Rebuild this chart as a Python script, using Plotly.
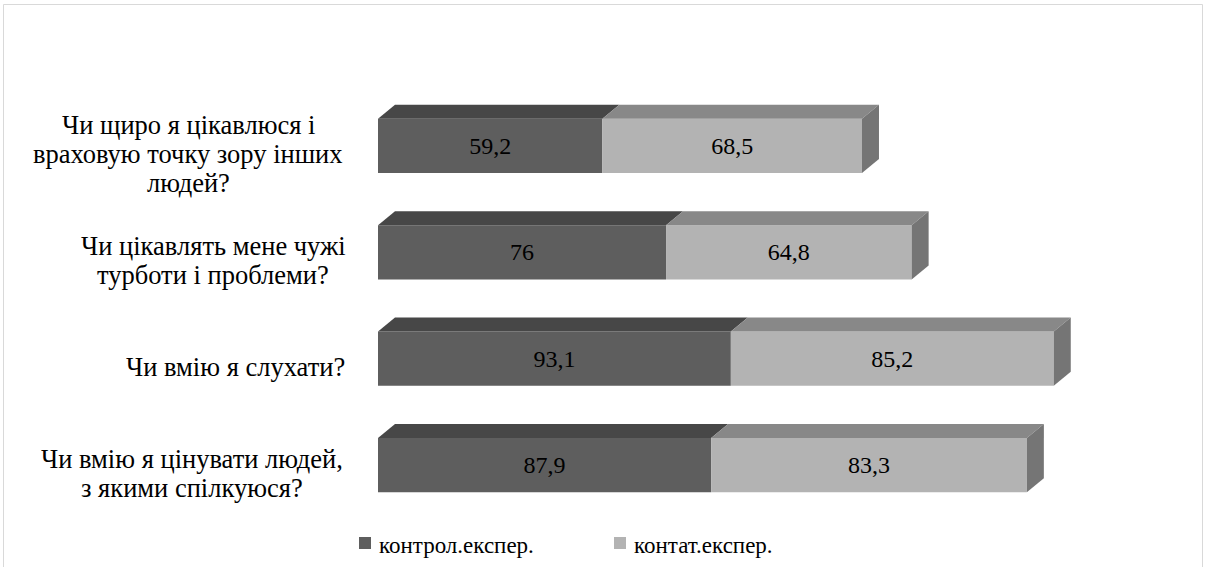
import plotly.graph_objects as go

# --- data -------------------------------------------------------------
questions = [
    "Чи щиро я цікавлюся і<br>враховую точку зору інших<br>людей?",
    "Чи цікавлять мене чужі<br>турботи і проблеми?",
    "Чи вмію я слухати?",
    "Чи вмію я цінувати людей,<br>з якими спілкуюся?",
]
control = [59.2, 76, 93.1, 87.9]
contact = [68.5, 64.8, 85.2, 83.3]
series_names = ["контрол.експер.", "контат.експер."]

# --- style ------------------------------------------------------------
FONT = "Liberation Serif"
DARK_FRONT, DARK_TOP = "#5e5e5e", "#474747"
LIGHT_FRONT, LIGHT_TOP = "#b3b3b3", "#888888"
SIDE = "#757575"
FRAME = "#d9d9d9"

W, H = 1209, 567
ML, MR, MT, MB = 378, 73, 82, 38
X_MAX = 200
Y_LO, Y_HI = -0.6, 3.6
BAR_W = 0.51
plot_w = W - ML - MR
plot_h = H - MT - MB
DX = 17 * X_MAX / plot_w            # depth offset, x units
DY = 14 * (Y_HI - Y_LO) / plot_h    # depth offset, y units

LABEL_SIZE = 26.5
LABEL_LINE = 29                     # px between label lines
LABEL_DROP = 8                      # px the label block sits below bar centre
LABEL_CENTERS = [188, 213, 235, 192]  # px, horizontal centre of each label block
VALUE_SIZE = 24
LEGEND_SIZE = 23


def fmt(v):
    return f"{v:g}".replace(".", ",")


def px_x(p):
    return (p - ML) / plot_w


def px_y(p):
    return (H - MB - p) / plot_h


n = len(questions)
ypos = [n - 1 - i for i in range(n)]

fig = go.Figure()

fig.add_trace(go.Bar(
    y=ypos, x=control, orientation="h", width=BAR_W, name=series_names[0],
    marker=dict(color=DARK_FRONT, line=dict(width=0)),
    text=[fmt(v) for v in control], texttemplate="%{text}",
    textposition="inside", insidetextanchor="middle", textangle=0,
    textfont=dict(family=FONT, size=VALUE_SIZE, color="black"),
    hoverinfo="skip", showlegend=False,
))
fig.add_trace(go.Bar(
    y=ypos, x=contact, base=control, orientation="h", width=BAR_W,
    name=series_names[1],
    marker=dict(color=LIGHT_FRONT, line=dict(width=0)),
    text=[fmt(v) for v in contact], texttemplate="%{text}",
    textposition="inside", insidetextanchor="middle", textangle=0,
    textfont=dict(family=FONT, size=VALUE_SIZE, color="black"),
    hoverinfo="skip", showlegend=False,
))


def face(xs, ys, color):
    fig.add_trace(go.Scatter(
        x=xs + [xs[0]], y=ys + [ys[0]], mode="lines", fill="toself",
        fillcolor=color, line=dict(width=0, color=color),
        showlegend=False, hoverinfo="skip",
    ))


# top and side faces of the 3D bars
for y, a, b in zip(ypos, control, contact):
    top = y + BAR_W / 2
    bot = y - BAR_W / 2
    end = a + b
    face([0, a, a + DX, DX], [top, top, top + DY, top + DY], DARK_TOP)
    face([a, end, end + DX, a + DX], [top, top, top + DY, top + DY], LIGHT_TOP)
    face([end, end, end + DX, end + DX], [bot, top, top + DY, bot + DY], SIDE)

# category labels, one annotation per line, lines centred in their block
for y, q, cx in zip(ypos, questions, LABEL_CENTERS):
    lines = q.split("<br>")
    k = len(lines)
    for j, line in enumerate(lines):
        shift = -(LABEL_DROP + (j - (k - 1) / 2) * LABEL_LINE)
        fig.add_annotation(
            x=px_x(cx), xref="paper", y=y, yref="y", yshift=shift,
            text=line, showarrow=False, xanchor="center", yanchor="middle",
            font=dict(family=FONT, size=LABEL_SIZE, color="black"),
        )

# legend: colour swatch + series name
legend_items = [(359, DARK_FRONT), (614, LIGHT_FRONT)]
for (sx, color), name in zip(legend_items, series_names):
    fig.add_shape(
        type="rect", xref="paper", yref="paper",
        x0=px_x(sx), x1=px_x(sx + 12), y0=px_y(549), y1=px_y(537),
        line=dict(width=0), fillcolor=color,
    )
    fig.add_annotation(
        x=px_x(sx + 18), xref="paper", y=px_y(545), yref="paper",
        text=name, showarrow=False, xanchor="left", yanchor="middle",
        font=dict(family=FONT, size=LEGEND_SIZE, color="black"),
    )

# outer frame
fig.add_shape(
    type="rect", xref="paper", yref="paper",
    x0=px_x(3.5), x1=px_x(1202.5), y0=px_y(600), y1=px_y(4.5),
    line=dict(color=FRAME, width=1), fillcolor="rgba(0,0,0,0)",
    layer="below",
)

fig.update_layout(
    width=W, height=H,
    margin=dict(l=ML, r=MR, t=MT, b=MB),
    paper_bgcolor="white", plot_bgcolor="white",
    barmode="overlay", showlegend=False,
    font=dict(family=FONT, size=20, color="black"),
    xaxis=dict(range=[0, X_MAX], visible=False, fixedrange=True),
    yaxis=dict(range=[Y_LO, Y_HI], visible=False, fixedrange=True),
)

fig.write_html("out.html")
